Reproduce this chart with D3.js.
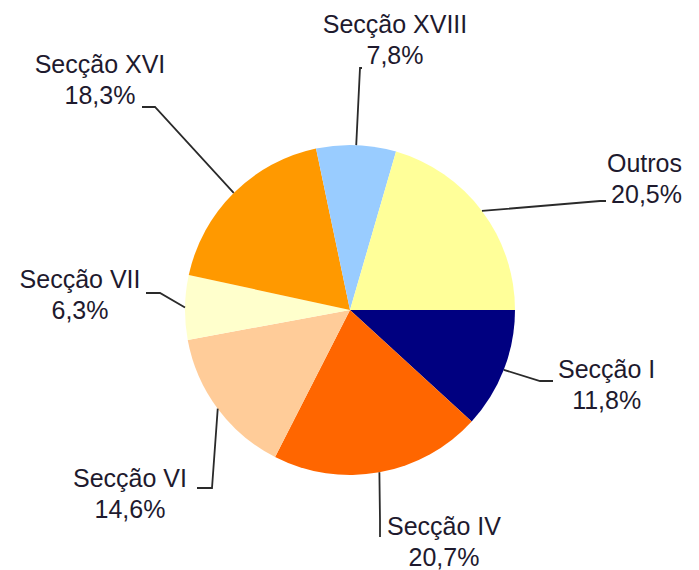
<!DOCTYPE html>
<html>
<head>
<meta charset="utf-8">
<script src="https://cdn.jsdelivr.net/npm/d3@7"></script>
<style>
  html, body { margin: 0; padding: 0; background: #fff; }
  svg { display: block; }
</style>
</head>
<body>
<svg id="chart" width="699" height="570"></svg>
<script>
// Data
const categories = ["Secção I", "Secção IV", "Secção VI", "Secção VII", "Secção XVI", "Secção XVIII", "Outros"];
const values = [11.8, 20.7, 14.6, 6.3, 18.3, 7.8, 20.5];
const valueLabels = ["11,8%", "20,7%", "14,6%", "6,3%", "18,3%", "7,8%", "20,5%"];
const colors = ["#000080", "#FF6600", "#FFCC99", "#FFFFCC", "#FF9900", "#99CCFF", "#FFFF99"];

// Layout (label placement, elbow and end of each leader line)
const labelLayout = [
  { tx: 558, ty: 378, anchor: "start",  elbow: [540, 381], end: [553, 381] },
  { tx: 387, ty: 535, anchor: "start",  elbow: [380, 520], end: [380, 537] },
  { tx: 130, ty: 487, anchor: "middle", elbow: [212, 488], end: [197, 488] },
  { tx: 80,  ty: 288, anchor: "middle", elbow: [160, 293], end: [146, 293] },
  { tx: 100, ty: 73,  anchor: "middle", elbow: [155, 107], end: [142, 107] },
  { tx: 395, ty: 33,  anchor: "middle", elbow: [360, 68],  end: [362, 68] },
  { tx: 682, ty: 172, anchor: "end",    elbow: [600, 201], end: [606, 201] }
];

const cx = 350, cy = 310, radius = 165;
const lineGap = 31;

const svg = d3.select("#chart");
const g = svg.append("g").attr("transform", `translate(${cx},${cy})`);

const data = categories.map((c, i) => ({ name: c, value: values[i], label: valueLabels[i], color: colors[i], layout: labelLayout[i] }));

const pie = d3.pie().value(d => d.value).sort(null)
  .startAngle(Math.PI / 2).endAngle(Math.PI / 2 + 2 * Math.PI);
const arc = d3.arc().innerRadius(0).outerRadius(radius);
const arcs = pie(data);

g.selectAll("path.slice").data(arcs).enter().append("path")
  .attr("class", "slice")
  .attr("d", arc)
  .attr("fill", d => d.data.color);

// Leader lines
const lineGen = d3.line();
svg.selectAll("path.leader").data(arcs).enter().append("path")
  .attr("class", "leader")
  .attr("fill", "none")
  .attr("stroke", "#2a2a2a")
  .attr("stroke-width", 1.8)
  .attr("d", d => {
    const a = (d.startAngle + d.endAngle) / 2;
    const p0 = [cx + radius * Math.sin(a), cy - radius * Math.cos(a)];
    return lineGen([p0, d.data.layout.elbow, d.data.layout.end]);
  });

// Labels
const labels = svg.selectAll("text.lbl").data(arcs).enter().append("text")
  .attr("class", "lbl")
  .attr("font-family", "'Liberation Sans', Arial, sans-serif")
  .attr("font-size", 25)
  .attr("fill", "#1e1a2e")
  .attr("text-anchor", d => d.data.layout.anchor);

labels.append("tspan")
  .attr("x", d => d.data.layout.tx)
  .attr("y", d => d.data.layout.ty)
  .text(d => d.data.name);

labels.append("tspan")
  .attr("x", d => d.data.layout.tx)
  .attr("y", d => d.data.layout.ty + lineGap)
  .text(d => d.data.label);

// center-align second line relative to the first for start/end anchored labels
labels.each(function(d) {
  const t = d3.select(this);
  const spans = t.selectAll("tspan").nodes();
  if (d.data.layout.anchor !== "middle") {
    const w1 = spans[0].getComputedTextLength();
    const mid = d.data.layout.anchor === "start" ? d.data.layout.tx + w1 / 2 : d.data.layout.tx - w1 / 2;
    d3.select(spans[1]).attr("text-anchor", "middle").attr("x", mid);
    if (d.data.layout.anchor === "end") {
      // Outros: lines are right-aligned
      d3.select(spans[1]).attr("text-anchor", "end").attr("x", d.data.layout.tx);
    }
  }
});
</script>
</body>
</html>
